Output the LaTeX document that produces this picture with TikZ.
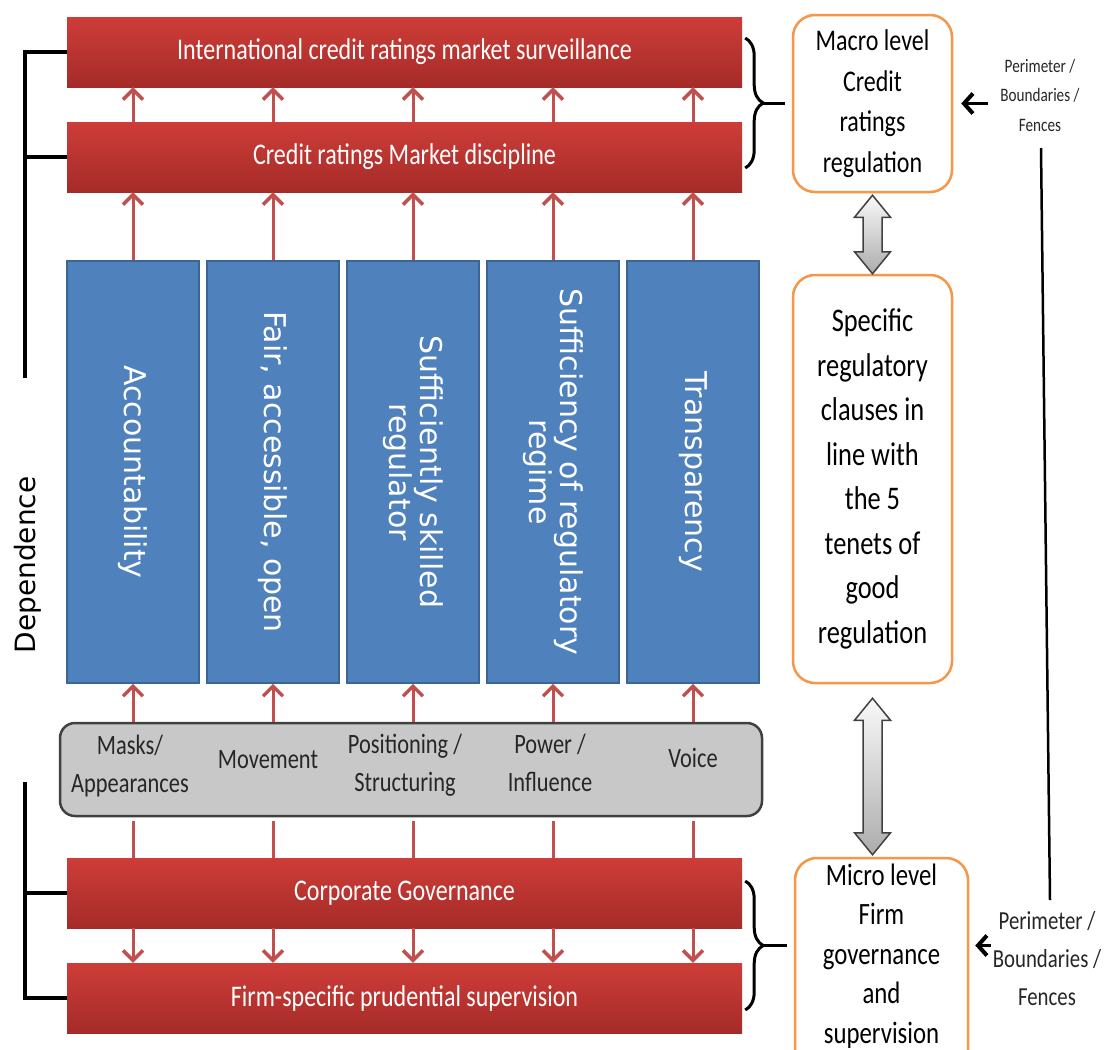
\documentclass[tikz,border=0pt]{standalone}
\usepackage{fontspec}
\setmainfont{Carlito}[FakeStretch=0.8]
\newfontfamily\tenetfont{DejaVu Sans}
\usetikzlibrary{calc,arrows.meta,decorations.pathreplacing}

\definecolor{barred}{HTML}{CE3D38}
\definecolor{barreddark}{HTML}{A52B28}
\definecolor{tenetblue}{HTML}{4F81BD}
\definecolor{tenetedge}{HTML}{3B6497}
\definecolor{linkred}{HTML}{C0504D}
\definecolor{frameorange}{HTML}{F79646}
\definecolor{bargray}{HTML}{C8C8C8}
\definecolor{edgegray}{HTML}{404040}
\definecolor{labelgray}{HTML}{262626}

% double-headed block arrow between two anchors (vertical)
\newcommand\dblblockarrow[2]{%
  \filldraw[blockarr] let \p1=(#1), \p2=(#2) in
    (\x1,\y1) -- ({\x1+18pt},{\y1-22pt}) -- ({\x1+9.5pt},{\y1-22pt})
    -- ({\x1+9.5pt},{\y2+22pt}) -- ({\x1+18pt},{\y2+22pt}) -- (\x1,\y2)
    -- ({\x1-18pt},{\y2+22pt}) -- ({\x1-9.5pt},{\y2+22pt})
    -- ({\x1-9.5pt},{\y1-22pt}) -- ({\x1-18pt},{\y1-22pt}) -- cycle;}

\begin{document}
\begin{tikzpicture}[x=1pt,y=-1pt,
  redbar/.style={minimum width=675pt, minimum height=70pt, inner sep=0pt,
    top color=barred, bottom color=barreddark, text=white,
    font=\fontsize{30}{34}\selectfont},
  tenet/.style={minimum width=132pt, minimum height=422pt, inner sep=0pt,
    fill=tenetblue, draw=tenetedge, line width=1.5pt},
  tenettext/.style={rotate=-90, text=white, align=center,
    font=\tenetfont\fontsize{30}{31}\selectfont},
  facet/.style={text=labelgray, align=center, inner sep=0pt,
    font=\fontsize{28}{38}\selectfont},
  levelbox/.style={draw=frameorange, line width=2.5pt, fill=white,
    rounded corners=22pt, inner sep=0pt, align=center},
  uparr/.style={draw=linkred, line width=3pt,
    -{Straight Barb[length=10pt,width=20pt,line width=3.5pt]}},
  link/.style={draw=linkred, line width=3pt},
  blackline/.style={draw=black, line width=3.5pt},
  blackarr/.style={draw=black, line width=3.5pt,
    -{Straight Barb[length=9pt,width=20pt,line width=4pt]}},
  bracestyle/.style={draw=black, line width=3pt, decorate,
    decoration={brace, amplitude=18pt}},
  blockarr/.style={top color=white!95!gray, bottom color=gray!65,
    draw=edgegray, line width=1.5pt},
  perim/.style={align=center, inner sep=0pt, text=labelgray}
]
\useasboundingbox (0,0) rectangle (1109,1050);

% market-level bars
\node[redbar] (ics) at (404.5,52) {International credit ratings market surveillance};
\node[redbar] (crm) at (404.5,157) {Credit ratings Market discipline};

% five tenets
\node[tenet] (c1) at (133,472) {};
\node[tenet] (c2) at (273,472) {};
\node[tenet] (c3) at (413,472) {};
\node[tenet] (c4) at (553,472) {};
\node[tenet] (c5) at (693,472) {};
\node[tenettext] (t1) at (c1) {Accountability};
\node[tenettext] (t2) at (c2) {Fair, accessible, open};
\node[tenettext] (t3) at (c3) {Sufficiently skilled\\regulator};
\node[tenettext] (t4) at (c4) {Sufficiency of regulatory\\regime};
\node[tenettext] (t5) at (c5) {Transparency};

% behaviour bar
\node[draw=edgegray, fill=bargray, line width=2.5pt, rounded corners=15pt,
  minimum width=702pt, minimum height=93pt] (gb) at (411,769.5) {};
\node[facet] (g1) at (130,766) {Masks/\\Appearances};
\node[facet] (g2) at (268,760) {Movement};
\node[facet] (g3) at (405,765) {Positioning /\\Structuring};
\node[facet] (g4) at (550,763) {Power /\\Influence};
\node[facet] (g5) at (693,758) {Voice};

% firm-level bars
\node[redbar] (cg) at (404.5,893) {Corporate Governance};
\node[redbar] (fps) at (404.5,998) {Firm-specific prudential supervision};

% arrows through the stack
\foreach \c in {c1,c2,c3,c4,c5}{
  \draw[uparr] (crm.north -| \c) -- (ics.south -| \c);
  \draw[uparr] (\c.north) -- (crm.south -| \c);
  \draw[uparr] (gb.north -| \c) -- (\c.south);
  \draw[link, shorten <=4pt] (gb.south -| \c) -- (cg.north -| \c);
  \draw[uparr] (cg.south -| \c) -- (fps.north -| \c);
}

% dependence connectors on the left
\coordinate (dtop) at (25,378);
\coordinate (dbot) at (25,782);
\draw[blackline] (ics.west) -| (dtop);
\draw[blackline] (crm.west) -- (crm.west -| dtop);
\draw[blackline] (fps.west) -| (dbot);
\draw[blackline] (cg.west) -- (cg.west -| dbot);
\node[rotate=90, font=\tenetfont\fontsize{28}{30}\selectfont, text=black] (dep) at (28,565) {Dependence};

% regulation levels
\node[levelbox, minimum width=159pt, minimum height=177pt,
  font=\fontsize{30}{40.5}\selectfont] (macro) at (872.5,103.5)
  {Macro level\\Credit\\ratings\\regulation};
\node[levelbox, minimum width=159pt, minimum height=408pt,
  font=\fontsize{33}{44.5}\selectfont] (spec) at (872.5,479)
  {Specific\\regulatory\\clauses in\\line with\\the 5\\tenets of\\good\\regulation};
\node[levelbox, minimum width=173pt, minimum height=217pt] (micro) at (881.5,966.5) {};
\node[align=center, inner sep=0pt, font=\fontsize{31}{39.5}\selectfont] (microtxt) at (881.5,956)
  {Micro level\\Firm\\governance\\and\\supervision};

\dblblockarrow{[yshift=-2pt]macro.south}{spec.north}
\dblblockarrow{[yshift=-14pt]spec.south}{[yshift=2pt]micro.north}

% braces grouping the bars
\coordinate (bt1) at ($(ics.east)+(3,-14)$);
\coordinate (bb1) at ($(crm.east)+(3,11)$);
\draw[bracestyle] (bt1) -- (bb1);
\coordinate (tip1) at ($(bt1)!0.5!(bb1)+(18,0)$);
\draw[blackline, line width=3pt, shorten >=7pt] (tip1) -- (tip1 -| macro.west);
\coordinate (bt2) at ($(cg.east)+(3,-12)$);
\coordinate (bb2) at ($(fps.east)+(3,12)$);
\draw[bracestyle] (bt2) -- (bb2);
\coordinate (tip2) at ($(bt2)!0.5!(bb2)+(18,0)$);
\draw[blackline, line width=3pt, shorten >=7pt] (tip2) -- (tip2 -| micro.west);

% perimeter labels
\node[perim, font=\fontsize{19}{29.5}\selectfont] (per1) at (1040,95)
  {Perimeter /\\Boundaries /\\Fences};
\node[perim, font=\fontsize{26}{38}\selectfont] (per2) at (1047,959)
  {Perimeter /\\Boundaries /\\Fences};
\draw[blackarr] ([xshift=-12pt]per1.west |- macro.east) -- ([xshift=8pt]macro.east);
\draw[blackarr] ([xshift=-2pt]per2.west |- tip2) -- ([xshift=6pt]tip2 -| micro.east);
\coordinate (fence1) at (1041,148);
\coordinate (fence2) at (1050,900);
\draw[black, line width=2.5pt] (fence1) -- (fence2);
\end{tikzpicture}
\end{document}
